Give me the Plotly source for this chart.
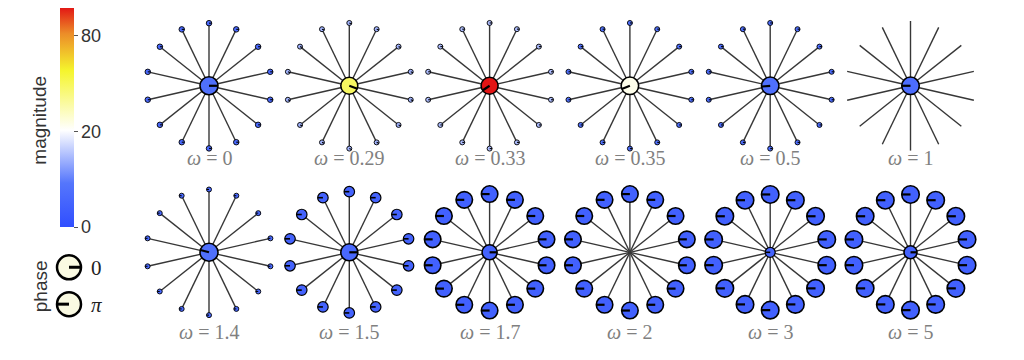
import numpy as np
import plotly.graph_objects as go

# ---------------- data ----------------
omega_labels = ["0", "0.29", "0.33", "0.35", "0.5", "1",
                "1.4", "1.5", "1.7", "2", "3", "5"]
center_mag = [3, 44, 106, 23, 3, 2.5, 3, 2, 1.2, 0, 1.2, 1.2]
leaf_mag = [2, 10, 11, 3, 2.5, 0, 2, 1.2, 1.0, 1.0, 1.0, 1.0]
center_size = [18, 17, 17, 17.5, 17.5, 17.5, 18, 17, 15, 0, 10, 13]
leaf_size = [5.5, 5, 5, 5, 5, 0, 5, 10.5, 16.5, 16.5, 17.5, 17.5]
center_phase = [0, -20, -146, -158, -175, 180, 165, 0, 0, 0, 180, 0]   # degrees
leaf_phase = [0, -20, 0, 0, 0, 0, 180, 180, 180, 180, 180, 180]       # degrees
n_leaves = 14
mag_max = 106
cbar_ticks = [0, 20, 80]

# ---------------- layout geometry (page pixel coordinates) ----------------
OFF = 8                      # default page body margin
W, H = 1024, 360
x0, dx = 209, 140.3
row_y = [85, 252]
label_y = [157, 332]
angles = np.deg2rad(90 - np.arange(n_leaves) * 360 / n_leaves)


def size_class(s):
    return 0 if s < 8 else (1 if s < 13 else 2)


outline_w = [0.9, 1.2, 1.6]
phase_w = [1.1, 1.6, 2.2]

edge_x, edge_y = [], []
node_x, node_y, node_s, node_c, node_p = [], [], [], [], []
annotations = []

for i, lab in enumerate(omega_labels):
    row, col = divmod(i, 6)
    cx, cy = x0 + dx * col, row_y[row]
    R = 65 - 0.4 * leaf_size[i]
    lx = cx + R * np.cos(angles)
    ly = cy - R * np.sin(angles)
    for a, b in zip(lx, ly):
        edge_x += [cx, a, None]
        edge_y += [cy, b, None]
    if center_size[i] > 0:
        node_x.append(cx); node_y.append(cy); node_s.append(center_size[i])
        node_c.append(np.sqrt(center_mag[i])); node_p.append(center_phase[i])
    if leaf_size[i] > 0:
        for a, b in zip(lx, ly):
            node_x.append(a); node_y.append(b); node_s.append(leaf_size[i])
            node_c.append(np.sqrt(leaf_mag[i])); node_p.append(leaf_phase[i])
    annotations.append(dict(
        x=cx, y=label_y[row], xref="x", yref="y", showarrow=False,
        text="<i>ω</i> = " + lab,
        font=dict(family="Liberation Serif, DejaVu Serif, serif", size=20,
                  color="#808080")))

# phase indicator lines, grouped by node size class
ph = {k: ([], []) for k in range(3)}
for x, y, s, p in zip(node_x, node_y, node_s, node_p):
    r = s / 2
    k = size_class(s)
    ph[k][0].extend([x, x + r * np.cos(np.deg2rad(p)), None])
    ph[k][1].extend([y, y - r * np.sin(np.deg2rad(p)), None])

colorscale = [
    [0.0, "rgb(48,78,255)"],
    [0.2, "rgb(85,118,252)"],
    [0.44, "rgb(255,255,255)"],
    [0.71, "rgb(245,245,45)"],
    [0.88, "rgb(236,140,40)"],
    [1.0, "rgb(226,20,20)"],
]

fig = go.Figure()
fig.add_trace(go.Scatter(x=edge_x, y=edge_y, mode="lines",
                         line=dict(color="rgb(55,55,55)", width=1.4),
                         hoverinfo="skip", showlegend=False))
fig.add_trace(go.Scatter(
    x=node_x, y=node_y, mode="markers",
    marker=dict(size=node_s, color=node_c, coloraxis="coloraxis", opacity=1,
                line=dict(color="black",
                          width=[outline_w[size_class(s)] for s in node_s])),
    hoverinfo="skip", showlegend=False))
for k in range(3):
    fig.add_trace(go.Scatter(x=ph[k][0], y=ph[k][1], mode="lines",
                             line=dict(color="black", width=phase_w[k]),
                             hoverinfo="skip", showlegend=False))

# phase legend
leg_phase = [0, 180]
leg_y = [267, 304]
leg_x = 69
leg_size = 24
fig.add_trace(go.Scatter(
    x=[leg_x] * 2, y=leg_y, mode="markers",
    marker=dict(size=leg_size, color="rgb(250,250,226)", opacity=1,
                line=dict(color="black", width=2.5)),
    hoverinfo="skip", showlegend=False))
lgx, lgy = [], []
for p, yy in zip(leg_phase, leg_y):
    r = leg_size / 2
    lgx += [leg_x, leg_x + r * np.cos(np.deg2rad(p)), None]
    lgy += [yy, yy - r * np.sin(np.deg2rad(p)), None]
fig.add_trace(go.Scatter(x=lgx, y=lgy, mode="lines",
                         line=dict(color="black", width=3),
                         hoverinfo="skip", showlegend=False))
for t, yy in zip(["0", "<i>π</i>"], leg_y):
    annotations.append(dict(x=89, y=yy + 1, xref="x", yref="y", showarrow=False,
                            xanchor="left", text=t,
                            font=dict(family="Liberation Serif, serif", size=21,
                                      color="#222")))
annotations.append(dict(x=40, y=286, xref="x", yref="y", showarrow=False,
                        text="phase", textangle=-90,
                        font=dict(family="Liberation Sans, Arial, sans-serif",
                                  size=19, color="#333")))
annotations.append(dict(x=40, y=120, xref="x", yref="y", showarrow=False,
                        text="magnitude", textangle=-90,
                        font=dict(family="Liberation Sans, Arial, sans-serif",
                                  size=19, color="#333")))

fig.update_layout(
    width=W - OFF, height=H - OFF, margin=dict(l=0, r=0, t=0, b=0),
    paper_bgcolor="white", plot_bgcolor="white",
    xaxis=dict(range=[OFF, W], visible=False, fixedrange=True),
    yaxis=dict(range=[H, OFF], visible=False, fixedrange=True),
    coloraxis=dict(
        colorscale=colorscale, cmin=0, cmax=np.sqrt(mag_max),
        colorbar=dict(
            x=(60 - OFF) / (W - OFF), xanchor="left",
            y=1 - (117 - OFF) / (H - OFF), yanchor="middle",
            len=220, lenmode="pixels", thickness=14, thicknessmode="pixels",
            outlinewidth=0, xpad=0, ypad=0,
            tickvals=[np.sqrt(v) for v in cbar_ticks],
            ticktext=[str(v) for v in cbar_ticks],
            ticks="outside", ticklen=4, tickcolor="#555",
            tickfont=dict(family="Liberation Sans, Arial, sans-serif",
                          size=18, color="#333"))),
    annotations=annotations,
    showlegend=False,
)

fig.write_html("out.html")
